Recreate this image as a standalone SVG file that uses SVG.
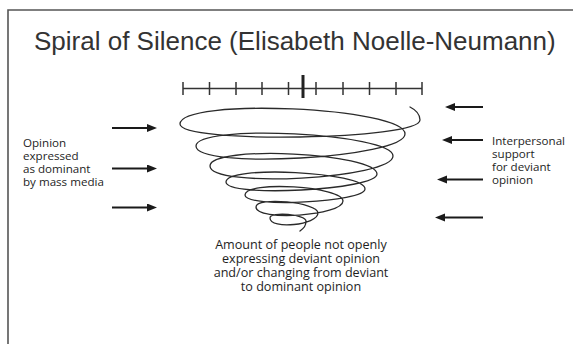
<svg xmlns="http://www.w3.org/2000/svg" width="573" height="344" viewBox="0 0 573 344">
  <defs>
    <marker id="ah" markerUnits="userSpaceOnUse" markerWidth="11" markerHeight="9" refX="2" refY="4" orient="auto">
      <path d="M0,0 L10,4 L0,8 Z" fill="#1a1a1a"/>
    </marker>
  </defs>
  <style>
    .frame { fill: none; stroke: #555; stroke-width: 1.6; }
    .title { font-family: "Liberation Sans", Arial, sans-serif; font-size: 26px; fill: #333; }
    .lbl { font-family: "Open Sans", "Noto Sans", sans-serif; font-size: 11.6px; fill: #1e1e1e; }
    .lblc { font-family: "Open Sans", "Noto Sans", sans-serif; font-size: 12.6px; fill: #1e1e1e; text-anchor: middle; }
    .scale { fill: none; stroke: #333; stroke-width: 1.5; }
    .spiral { fill: none; stroke: #2a2a2a; stroke-width: 1.3; stroke-linejoin: round; stroke-linecap: round; }
    .arrow { fill: none; stroke: #1a1a1a; stroke-width: 2; marker-end: url(#ah); }
  </style>
  <rect x="0" y="0" width="573" height="344" fill="#fff"/>
  <path class="frame" d="M8,344 L8,10 L573,10"/>

  <g id="title">
    <text class="title" x="34" y="50">Spiral of Silence (Elisabeth Noelle-Neumann)</text>
  </g>

  <g id="scale">
    <path class="scale" d="M183,88.5 L422,88.5 M183,82 V95 M209.5,82 V95 M236,82 V95 M262,82 V95 M288.5,82 V95 M316,82 V95 M343,82 V95 M369.5,82 V95 M396,82 V95 M422,82 V95"/>
    <path d="M303,75 V98" stroke="#222" stroke-width="3" fill="none"/>
  </g>

  <g id="spiral">
    <path class="spiral" d="M410,107 C416,110 420,115 420,120
      C420,140 180,144 180,124
      C180,97.3 405,107.3 405,134
      C405,158 196,170 196,146
      C196,123.3 393,133.3 393,156
      C393,178.7 210,188.7 210,166
      C210,144.7 377,152.7 377,174
      C377,190 226,198 226,182
      C226,164.7 365,171.7 365,189
      C365,202.3 245,208.3 245,195
      C245,180.3 343,186.3 343,201
      C343,215.7 256,221.7 256,207
      C256,196.3 318,202.3 318,213
      C318,225 270,230 270,218
      C270,211.3 306,214.3 306,221
      C306,226 304,228 300,231"/>
  </g>

  <g id="left-label">
    <text class="lbl" x="23" y="147">Opinion</text>
    <text class="lbl" x="23" y="160">expressed</text>
    <text class="lbl" x="23" y="173">as dominant</text>
    <text class="lbl" x="23" y="186">by mass media</text>
  </g>

  <g id="right-label">
    <text class="lbl" x="492" y="144.5">Interpersonal</text>
    <text class="lbl" x="492" y="157.5">support</text>
    <text class="lbl" x="492" y="170.5">for deviant</text>
    <text class="lbl" x="492" y="183.5">opinion</text>
  </g>

  <g id="bottom-label">
    <text class="lblc" x="301" y="249">Amount of people not openly</text>
    <text class="lblc" x="301" y="263">expressing deviant opinion</text>
    <text class="lblc" x="301" y="277">and/or changing from deviant</text>
    <text class="lblc" x="301" y="291">to dominant opinion</text>
  </g>

  <g id="connectors">
    <path class="arrow" d="M112,128 L149,128"/>
    <path class="arrow" d="M112,168.5 L149,168.5"/>
    <path class="arrow" d="M112,207.5 L149,207.5"/>
    <path class="arrow" d="M483,107 L453,107"/>
    <path class="arrow" d="M483,140 L450,140"/>
    <path class="arrow" d="M483,179.5 L445,179.5"/>
    <path class="arrow" d="M483,217.5 L443,217.5"/>
  </g>
</svg>
